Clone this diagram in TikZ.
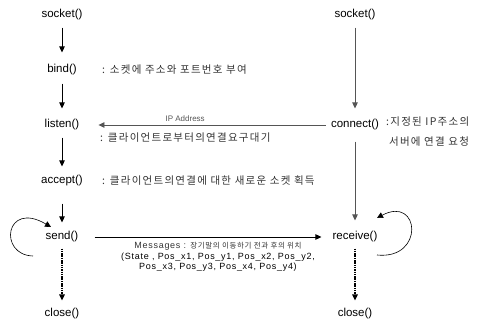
\documentclass[tikz,border=0pt]{standalone}
\usepackage{fontspec}
\setmainfont{Liberation Sans}
\newfontfamily\krfont[LetterSpace=12]{Noto Sans CJK KR}
\newfontfamily\krsmall[LetterSpace=8]{Noto Sans CJK KR}
\newfontfamily\msgfont[LetterSpace=8]{Liberation Sans}
\usetikzlibrary{
  arrows.meta,
  positioning
}
\usepackage{xcolor}
\definecolor{linegray}{HTML}{555555}
\definecolor{notegray}{HTML}{333333}

\begin{document}
\begin{tikzpicture}[
  x=1pt, y=-1pt,
  func/.style={
    font=\fontsize{11.5}{13}\selectfont,
    inner sep=1pt,
  },
  note/.style={
    font=\krfont\fontsize{10.5}{20}\selectfont,
    text=notegray,
    anchor=west,
    inner sep=0pt,
    align=left,
  },
  msg/.style={
    font=\msgfont\fontsize{9}{10.5}\selectfont,
    align=center,
    inner sep=0pt,
  },
  flow/.style={
    -{Triangle[length=6pt,width=5.5pt]},
    line width=0.8pt,
  },
  dashflow/.style={
    flow,
    dash pattern=on 1.5pt off 0.8pt,
    line width=1.3pt,
  },
  loopflow/.style={
    -{Triangle[length=6pt,width=6pt]},
    line width=0.6pt,
  }
  ]

  \path[use as bounding box] (0,0) rectangle (481,331);

  % server side
  \node[func] (ssocket) at (62,15) {socket()};
  \node[func] (bind) at (62,70) {bind()};
  \node[func] (listen) at (62,125) {listen()};
  \node[func] (accept) at (62,181) {accept()};
  \node[func] (send) at (62,237) {send()};
  \node[func] (sclose) at (62,314) {close()};

  % client side
  \node[func] (csocket) at (355,15) {socket()};
  \node[func] (connect) at (355,125) {connect()};
  \node[func] (receive) at (355,237) {receive()};
  \node[func] (cclose) at (355,314) {close()};

  % notes
  \node[note] (bindnote) at (102,70) {: 소켓에 주소와 포트번호 부여};
  \node[note] (listennote) at (100,138) {: 클라이언트로부터의연결요구대기};
  \node[note] (acceptnote) at (102,181) {: 클라이언트의연결에 대한 새로운 소켓 획득};
  \node[note] (connectnote) at (386,132) {:지정된 IP주소의\\\phantom{:}서버에 연결 요청};

  % server flow
  \draw[flow, shorten <=6pt, shorten >=11pt] (ssocket) -- (bind);
  \draw[flow, shorten <=7pt, shorten >=10pt] (bind) -- (listen);
  \draw[flow, shorten <=6pt, shorten >=8pt] (listen) -- (accept);
  \draw[flow, shorten <=16pt, shorten >=8pt] (accept) -- (send);
  \draw[dashflow, shorten <=5pt, shorten >=7pt] (send) -- (sclose);

  % client flow
  \draw[flow, linegray, shorten <=6pt, shorten >=10pt] (csocket) -- (connect);
  \draw[flow, linegray, shorten <=10pt, shorten >=10pt] (connect) -- (receive);
  \draw[dashflow, shorten <=5pt, shorten >=7pt] (receive) -- (cclose);

  % connection request
  \draw[flow, linegray, shorten <=4pt, shorten >=18pt] (connect) -- (listen)
    node[pos=0.58, above=3pt, font=\fontsize{8}{9}\selectfont, inner sep=0pt] (ipaddr) {IP Address};

  % messages
  \draw[flow, shorten <=15pt, shorten >=10pt] (send) -- (receive);
  \node[msg] (msgs) at (218,257) {{\color{notegray}Messages : {\krsmall\fontsize{7.5}{10.5}\selectfont 장기말의 이동하기 전과 후의 위치}}\\
    (State , Pos\_x1, Pos\_y1, Pos\_x2, Pos\_y2,\\
    Pos\_x3, Pos\_y3, Pos\_x4, Pos\_y4)};

  % loops
  \draw[loopflow] ([xshift=-29pt,yshift=-19pt]send.center) .. controls (-2,255) and (5,200) .. ([xshift=-11pt,yshift=10pt]send.center);
  \draw[loopflow] ([xshift=22pt,yshift=-18pt]receive.center) .. controls (425,260) and (420,195) .. ([xshift=22pt,yshift=19pt]receive.center);

\end{tikzpicture}
\end{document}
